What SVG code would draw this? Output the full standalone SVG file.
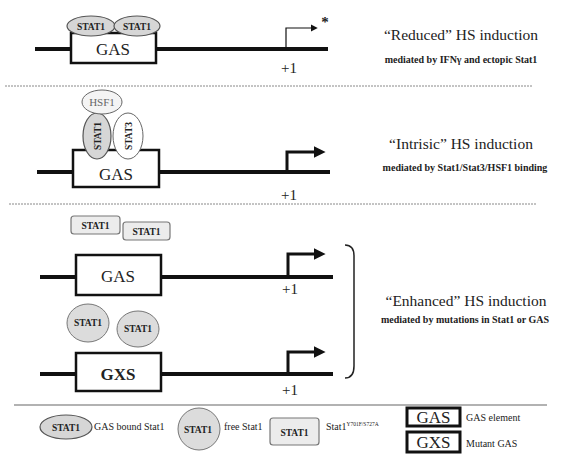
<svg xmlns="http://www.w3.org/2000/svg" width="569" height="454" viewBox="0 0 569 454" font-family="'Liberation Serif', 'DejaVu Serif', serif">
<defs>
<style>
text{font-family:"Liberation Serif","DejaVu Serif",serif;fill:#222}
.dna{stroke:#111;stroke-width:4;fill:none}
.box{fill:#fff;stroke:#111;stroke-width:2.5}
.gas{font-size:17px;text-anchor:middle}
.plus{font-size:15px;text-anchor:middle}
.title{font-size:15.5px;text-anchor:middle}
.sub{font-size:10px;font-weight:bold;text-anchor:middle}
.bound{fill:#d6d6d6;stroke:#555;stroke-width:1.2}
.free{fill:#dcdcdc;stroke:#777;stroke-width:1}
.mut{fill:#ececec;stroke:#777;stroke-width:1.2}
.st{font-size:9.5px;font-weight:bold;text-anchor:middle}
.prom{stroke:#111;stroke-width:3;fill:none}
.sep{stroke:#888;stroke-width:1;stroke-dasharray:2 1}
.leg{font-size:10px}
</style>
<marker id="ah" viewBox="0 0 10 10" refX="2" refY="5" markerWidth="4" markerHeight="4" orient="auto"><path d="M0 0L10 5L0 10z" fill="#111"/></marker>
<marker id="ahs" viewBox="0 0 10 10" refX="2" refY="5" markerWidth="6" markerHeight="6" orient="auto"><path d="M0 0L10 5L0 10z" fill="#111"/></marker>
</defs>

<g id="separators">
<line class="sep" x1="5" y1="86" x2="533" y2="86"/>
<line class="sep" x1="9" y1="204" x2="536" y2="204"/>
<line x1="14" y1="405" x2="547" y2="405" stroke="#999" stroke-width="1.5"/>
</g>

<g id="connectors">
<line class="dna" x1="35" y1="49" x2="328" y2="49"/>
<path d="M286 49V28H312" stroke="#111" stroke-width="1.2" fill="none" marker-end="url(#ahs)"/>
<line class="dna" x1="37" y1="172" x2="330" y2="172"/>
<path class="prom" d="M287 172V152H316" marker-end="url(#ah)"/>
<line class="dna" x1="40" y1="277" x2="333" y2="277"/>
<path class="prom" d="M288 277V254H316" marker-end="url(#ah)"/>
<line class="dna" x1="40" y1="374" x2="333" y2="374"/>
<path class="prom" d="M288 374V352H316" marker-end="url(#ah)"/>
<path d="M345 245Q354 245 354 256V366Q354 378 345 378" stroke="#222" stroke-width="1.5" fill="none"/>
</g>

<g id="section1">
<rect class="box" x="71" y="33" width="85" height="30"/>
<text class="gas" x="113" y="55">GAS</text>
<ellipse class="bound" cx="91" cy="26" rx="24" ry="10"/>
<ellipse class="bound" cx="137" cy="26" rx="23" ry="10"/>
<text class="st" x="91" y="30">STAT1</text>
<text class="st" x="137" y="30">STAT1</text>
<text x="325" y="27" font-size="15" font-weight="bold" text-anchor="middle">*</text>
<text class="plus" x="289" y="73">+1</text>
<text class="title" x="461" y="40">“Reduced” HS induction</text>
<text class="sub" x="461" y="63">mediated by IFNγ and ectopic Stat1</text>
</g>

<g id="section2">
<rect class="box" x="73" y="150" width="86" height="37"/>
<text class="gas" x="116" y="180">GAS</text>
<ellipse class="bound" cx="97" cy="136" rx="14" ry="23"/>
<ellipse cx="128" cy="136" rx="15" ry="23" fill="#fff" stroke="#666" stroke-width="1"/>
<ellipse cx="102" cy="102" rx="20" ry="12" fill="#f4f4f4" stroke="#666" stroke-width="1"/>
<text x="102" y="106" font-size="11" text-anchor="middle" style="fill:#666">HSF1</text>
<text class="st" transform="translate(100.5 136) rotate(-90)" x="0" y="0">STAT1</text>
<text class="st" transform="translate(131.5 136) rotate(-90)" x="0" y="0">STAT3</text>
<text class="plus" x="289" y="200">+1</text>
<text class="title" x="461" y="149">“Intrisic” HS induction</text>
<text class="sub" x="465" y="171">mediated by Stat1/Stat3/HSF1 binding</text>
</g>

<g id="section3">
<rect class="mut" x="71" y="216" width="49" height="18" rx="3"/>
<rect class="mut" x="123" y="222" width="47" height="18" rx="3"/>
<text class="st" x="95.5" y="229" font-size="10">STAT1</text>
<text class="st" x="146.5" y="235" font-size="10">STAT1</text>
<rect class="box" x="76" y="255" width="85" height="40"/>
<text class="gas" x="118" y="282">GAS</text>
<text class="plus" x="290" y="294">+1</text>
<text class="title" x="466" y="306">“Enhanced” HS induction</text>
<text class="sub" x="465" y="323">mediated by mutations in Stat1 or GAS</text>
</g>

<g id="section4">
<ellipse class="free" cx="88" cy="323" rx="21" ry="19"/>
<ellipse class="free" cx="138" cy="329" rx="21" ry="18"/>
<text class="st" x="88" y="326">STAT1</text>
<text class="st" x="138" y="332">STAT1</text>
<rect class="box" x="76" y="353" width="85" height="38"/>
<text class="gas" x="118" y="380" font-weight="bold" font-size="15">GXS</text>
<text class="plus" x="290" y="395">+1</text>
</g>

<g id="legend">
<ellipse class="bound" cx="66" cy="427" rx="26" ry="12" stroke-width="1.6"/>
<text class="st" x="66" y="431" font-size="11.5">STAT1</text>
<text class="leg" x="94" y="430">GAS bound Stat1</text>
<ellipse class="free" cx="199" cy="429" rx="21" ry="21"/>
<text class="st" x="198" y="433" font-size="12">STAT1</text>
<text class="leg" x="224" y="430">free Stat1</text>
<rect class="mut" x="270" y="418" width="49" height="27" rx="3"/>
<text class="st" x="294.5" y="436" font-size="12">STAT1</text>
<text class="leg" x="326" y="430">Stat1<tspan font-size="5.5" dy="-4">Y701F/S727A</tspan></text>
<rect x="407" y="408" width="53" height="18" fill="#fff" stroke="#111" stroke-width="3"/>
<text class="gas" x="433.5" y="423" font-size="16">GAS</text>
<text class="leg" x="466" y="421" font-size="9">GAS element</text>
<rect x="407" y="432" width="53" height="20" fill="#fff" stroke="#111" stroke-width="3"/>
<text class="gas" x="433.5" y="448" font-size="16">GXS</text>
<text class="leg" x="466" y="447" font-size="9">Mutant GAS</text>
</g>
</svg>
